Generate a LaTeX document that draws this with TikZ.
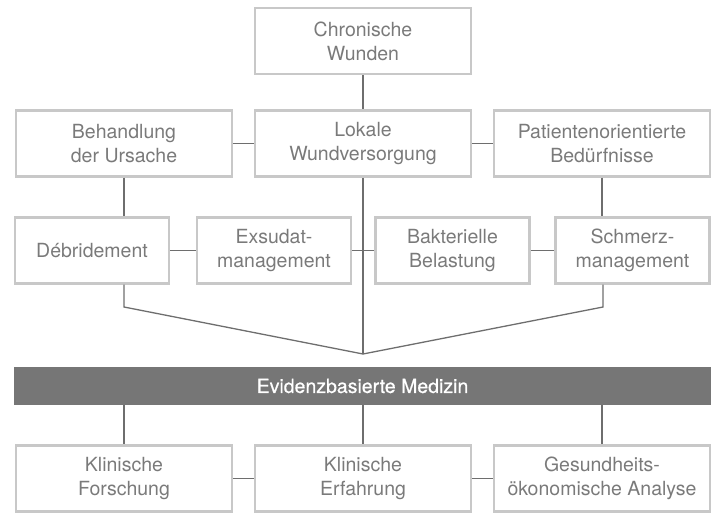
\documentclass[tikz,border=0pt]{standalone}
\usepackage{fontspec}
\setmainfont{TeX Gyre Heros}
\definecolor{boxgray}{HTML}{C8C8C8}
\definecolor{txtgray}{HTML}{7A7A7A}
\definecolor{linegray}{HTML}{6E6E6E}
\definecolor{bargray}{HTML}{767676}
\begin{document}
\begin{tikzpicture}[x=1pt,y=-1pt,
  box/.style={draw=boxgray, line width=2.5pt, text=txtgray, align=center, inner sep=0pt,
    minimum height=66pt, font=\fontsize{19.5}{24}\selectfont},
  widebox/.style={box, minimum width=216pt},
  smallbox/.style={box, minimum width=154pt},
  conn/.style={draw=linegray, line width=1.3pt},
  bar/.style={fill=bargray, text=white, minimum width=697pt, minimum height=38pt, inner sep=0pt,
    font=\fontsize{19.5}{22}\selectfont\addfontfeature{FakeBold=0.6}}]
\useasboundingbox (0,0) rectangle (713,513);
% top
\node[widebox] (chron) at (363,41) {Chronische\\Wunden};
% row 2
\node[widebox] (beh) at (124,143.5) {Behandlung\\der Ursache};
\node[widebox] (lok) at (363,143.5) {Lokale\\Wundversorgung};
\node[widebox] (pat) at (602,143.5) {Patientenorientierte\\Bedürfnisse};
% row 3
\node[smallbox] (deb) at (92,250.5) {Débridement};
\node[smallbox] (exs) at (274,250.5) {Exsudat-\\management};
\node[smallbox] (bak) at (452.5,250.5) {Bakterielle\\Belastung};
\node[smallbox] (sch) at (632.5,250.5) {Schmerz-\\management};
% bar
\node[bar] (ebm) at (362.5,386) {Evidenzbasierte Medizin};
% bottom
\node[widebox] (kf) at (124,478.5) {Klinische\\Forschung};
\node[widebox] (ke) at (363,478.5) {Klinische\\Erfahrung};
\node[widebox] (ga) at (602,478.5) {Gesundheits-\\ökonomische Analyse};
% coordinates
\coordinate (conv) at (363,354);
\coordinate (debk) at (124,307);
\coordinate (schk) at (603,307);
% connectors
\draw[conn] (chron.south) -- (lok.north);
\draw[conn] (beh.east) -- (lok.west);
\draw[conn] (lok.east) -- (pat.west);
\draw[conn] (beh.south) -- (beh.south |- deb.north);
\draw[conn] (pat.south) -- (pat.south |- sch.north);
\draw[conn] (deb.east) -- (exs.west);
\draw[conn] (exs.east) -- (bak.west);
\draw[conn] (bak.east) -- (sch.west);
\draw[conn] (lok.south) -- (conv);
\draw[conn] (debk |- deb.south) -- (debk) -- (conv);
\draw[conn] (schk |- sch.south) -- (schk) -- (conv);
\draw[conn] (kf.north |- ebm.south) -- (kf.north);
\draw[conn] (ke.north |- ebm.south) -- (ke.north);
\draw[conn] (ga.north |- ebm.south) -- (ga.north);
\draw[conn] (kf.east) -- (ke.west);
\draw[conn] (ke.east) -- (ga.west);
\end{tikzpicture}
\end{document}
